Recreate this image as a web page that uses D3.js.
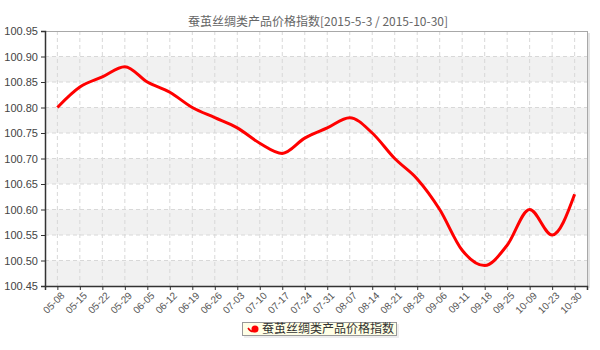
<!DOCTYPE html>
<html>
<head>
<meta charset="utf-8">
<script src="https://cdn.jsdelivr.net/npm/d3@7"></script>
<style>
  body { margin: 0; background: #fff; }
  svg { display: block; }
</style>
</head>
<body>
<div id="chart"></div>
<script>
// --- data ---
const dates = ["05-08", "05-15", "05-22", "05-29", "06-05", "06-12", "06-19", "06-26",
  "07-03", "07-10", "07-17", "07-24", "07-31", "08-07", "08-14", "08-21", "08-28",
  "09-06", "09-11", "09-18", "09-25", "10-09", "10-23", "10-30"];
const values = [100.80, 100.84, 100.86, 100.88, 100.85, 100.83, 100.80, 100.78,
  100.76, 100.73, 100.71, 100.74, 100.76, 100.78, 100.75, 100.70, 100.66,
  100.60, 100.52, 100.49, 100.53, 100.60, 100.55, 100.63];
const yTicks = [100.45, 100.50, 100.55, 100.60, 100.65, 100.70, 100.75, 100.80, 100.85, 100.90, 100.95];
const titleText = "蚕茧丝绸类产品价格指数[2015-5-3 / 2015-10-30]";
const seriesName = "蚕茧丝绸类产品价格指数";

const W = 600, H = 350;
const m = { left: 45, right: 13, top: 31, bottom: 64 };
const pw = W - m.left - m.right, ph = H - m.top - m.bottom;

const svg = d3.select("#chart").append("svg").attr("width", W).attr("height", H);
const latin = "Arial, 'Liberation Sans', sans-serif";
const cjk = "'Noto Sans CJK SC', sans-serif";

const x = d3.scalePoint().domain(dates).range([0, pw]).padding(0.55);
const y = d3.scaleLinear().domain([100.45, 100.95]).range([ph, 0]);

const g = svg.append("g").attr("transform", `translate(${m.left},${m.top})`);

// 🎨 alternating bands
const bands = d3.range(0, yTicks.length - 1).filter(i => i % 2 === 0);
g.selectAll("rect.band").data(bands).join("rect")
  .attr("x", 0).attr("width", pw)
  .attr("y", i => y(yTicks[i + 1])).attr("height", i => y(yTicks[i]) - y(yTicks[i + 1]))
  .attr("fill", "#f1f1f1");

// dashed grid
g.append("g").selectAll("line").data(yTicks.slice(1, -1)).join("line")
  .attr("x1", 0).attr("x2", pw).attr("y1", d => y(d)).attr("y2", d => y(d))
  .attr("stroke", "#d8d8d8").attr("stroke-dasharray", "4,3");
g.append("g").selectAll("line").data(dates).join("line")
  .attr("x1", d => x(d)).attr("x2", d => x(d)).attr("y1", 0).attr("y2", ph)
  .attr("stroke", "#d8d8d8").attr("stroke-dasharray", "4,3");

// frame: light top/right with shadow
g.append("line").attr("x1", pw + 2).attr("x2", pw + 2).attr("y1", 2).attr("y2", ph + 2)
  .attr("stroke", "#e4e4e4").attr("stroke-width", 2);
g.append("rect").attr("x", 0.5).attr("y", 0.5).attr("width", pw).attr("height", ph)
  .attr("fill", "none").attr("stroke", "#a8a8a8");

// axes
const yAxis = g.append("g")
  .call(d3.axisLeft(y).tickValues(yTicks).tickFormat(d3.format(".2f")).tickSize(4).tickPadding(3));
const xAxis = g.append("g").attr("transform", `translate(0,${ph})`)
  .call(d3.axisBottom(x).tickSize(4).tickPadding(3));
[yAxis, xAxis].forEach(a => {
  a.select(".domain").attr("stroke", "#333").attr("stroke-width", 1.5);
  a.selectAll(".tick line").attr("stroke", "#333");
  a.selectAll("text").attr("fill", "#444").attr("font-family", latin);
});
yAxis.selectAll("text").attr("font-size", 11);
xAxis.selectAll("text").attr("font-size", 10).attr("fill", "#555")
  .attr("text-anchor", "end").attr("dx", "-0.2em").attr("dy", "0.55em")
  .attr("transform", "rotate(-45)");

// 📈 line
const line = d3.line().x((d, i) => x(dates[i])).y(d => y(d)).curve(d3.curveMonotoneX);
g.append("path").datum(values).attr("d", line)
  .attr("fill", "none").attr("stroke", "#ff0000").attr("stroke-width", 3)
  .attr("stroke-linejoin", "round");

// title
svg.append("text").attr("x", 318).attr("y", 26).attr("text-anchor", "middle")
  .attr("font-family", cjk).attr("font-size", 12).attr("fill", "#666")
  .text(titleText);

// legend
const lg = svg.append("g").attr("transform", "translate(242,322)");
lg.append("rect").attr("x", 2).attr("y", 2).attr("width", 155).attr("height", 14).attr("fill", "#eee");
lg.append("rect").attr("x", 0.5).attr("y", 0.5).attr("width", 154).attr("height", 13)
  .attr("fill", "#ffffe6").attr("stroke", "#999");
lg.append("path").attr("d", "M6,6 Q9,11 14,9").attr("fill", "none").attr("stroke", "#e00").attr("stroke-width", 1.5);
lg.append("circle").attr("cx", 13).attr("cy", 7).attr("r", 3.5).attr("fill", "#f00");
lg.append("text").attr("x", 20).attr("y", 11).attr("font-family", cjk).attr("font-size", 12)
  .attr("fill", "#333").text(seriesName);
</script>
</body>
</html>
